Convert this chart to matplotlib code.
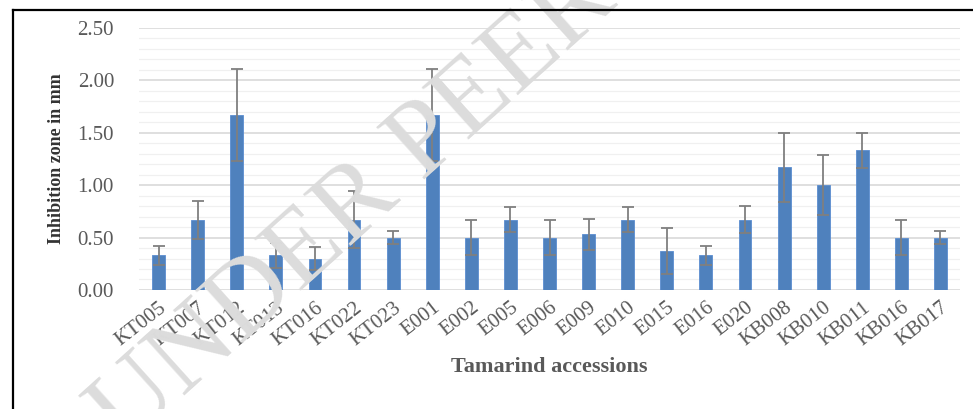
import numpy as np
import matplotlib
matplotlib.use("Agg")
import matplotlib.pyplot as plt
from matplotlib.lines import Line2D
from matplotlib.ticker import MultipleLocator

plt.rcParams['font.family'] = ['Liberation Serif', 'DejaVu Serif']

accessions = ["KT005", "KT007", "KT012", "KT013", "KT016", "KT022", "KT023",
              "E001", "E002", "E005", "E006", "E009", "E010", "E015", "E016",
              "E020", "KB008", "KB010", "KB011", "KB016", "KB017"]
zone_mm = [0.33, 0.67, 1.67, 0.33, 0.30, 0.67, 0.50,
           1.67, 0.50, 0.67, 0.50, 0.53, 0.67, 0.37, 0.33,
           0.67, 1.17, 1.00, 1.33, 0.50, 0.50]
zone_err = [0.09, 0.18, 0.44, 0.12, 0.11, 0.27, 0.06,
            0.44, 0.17, 0.12, 0.17, 0.15, 0.12, 0.22, 0.09,
            0.13, 0.33, 0.29, 0.17, 0.17, 0.06]

TICK_GREY = "#595959"

fig = plt.figure(figsize=(9.73, 4.09), dpi=100)
axes = fig.add_axes([0.1429, 0.2910, 0.8437, 0.6413])

# watermark behind the chart
fig.text(0.128, -0.10, "UNDER PEER REVIEW", fontsize=78, color="#DCDCDC",
         rotation=42, rotation_mode="anchor", ha="left", va="baseline",
         zorder=0)
axes.patch.set_alpha(0)

x = np.arange(len(accessions))
axes.bar(x, zone_mm, width=0.33, color="#4F81BD", edgecolor="#5B8DD0",
         linewidth=0.6, zorder=3)
axes.errorbar(x, zone_mm, yerr=zone_err, fmt="none", ecolor="#7F7F7F",
              elinewidth=1.3, capsize=4, capthick=1.3, zorder=4)

axes.set_xlim(-0.5, len(accessions) - 0.5)
axes.set_ylim(0, 2.5)
axes.yaxis.set_major_locator(MultipleLocator(0.5))
axes.yaxis.set_minor_locator(MultipleLocator(0.1))
axes.set_yticklabels([f"{v:.2f}" for v in axes.get_yticks()])
axes.grid(axis="y", which="major", color="#D9D9D9", linewidth=1.2, zorder=1)
axes.grid(axis="y", which="minor", color="#F0F0F0", linewidth=0.9, zorder=1)
for s in axes.spines.values():
    s.set_visible(False)
axes.tick_params(axis="both", which="both", length=0, colors=TICK_GREY)
axes.tick_params(axis="y", labelsize=15, pad=18)

axes.set_xticks(x)
axes.set_xticklabels(accessions, rotation=38, ha="right", va="top",
                     rotation_mode="anchor", fontsize=15, color=TICK_GREY)
axes.tick_params(axis="x", pad=6)

axes.set_ylabel("Inhibition zone in mm", fontsize=13, fontweight="bold",
                color="#333333", labelpad=9)
axes.set_xlabel("Tamarind accessions", fontsize=16, fontweight="bold",
                color=TICK_GREY, labelpad=5)

# frame of the figure box
fig.add_artist(Line2D([0.0134, 0.0134], [0.0, 0.9756], color="black",
                      linewidth=1.6, transform=fig.transFigure))
fig.add_artist(Line2D([0.0134, 1.0], [0.9756, 0.9756], color="black",
                      linewidth=1.6, transform=fig.transFigure))

fig.savefig("out.png", dpi=100)
